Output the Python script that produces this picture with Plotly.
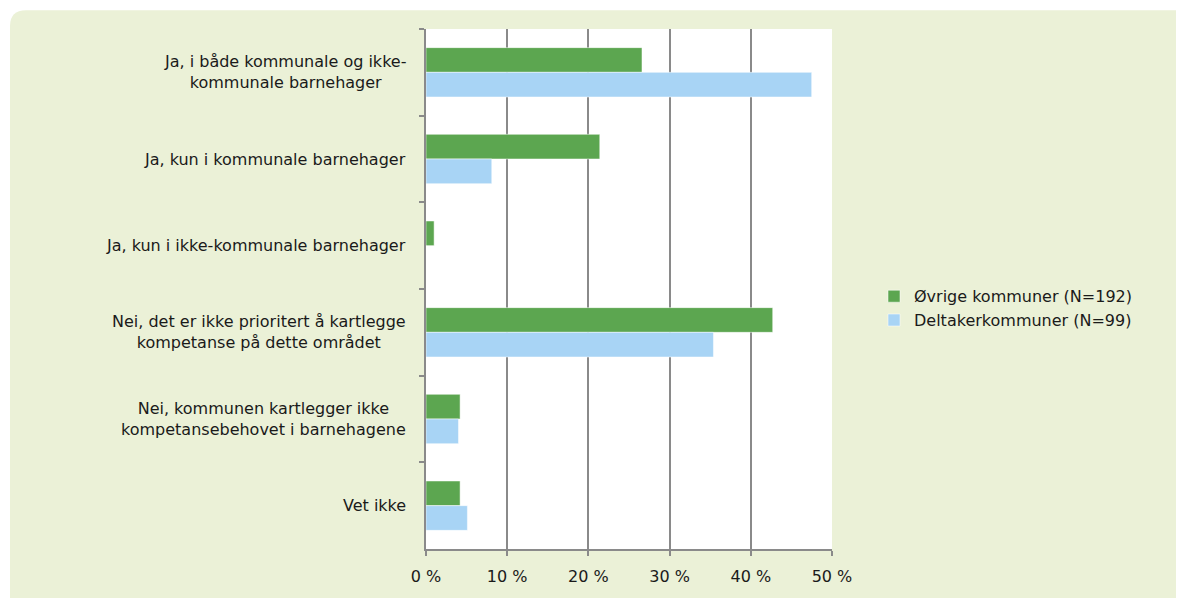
import plotly.graph_objects as go

categories = [
    "Ja, i både kommunale og ikke-<br>kommunale barnehager",
    "Ja, kun i kommunale barnehager",
    "Ja, kun i ikke-kommunale barnehager",
    "Nei, det er ikke prioritert å kartlegge<br>kompetanse på dette området",
    "Nei, kommunen kartlegger ikke<br>kompetansebehovet i barnehagene",
    "Vet ikke",
]
ovrige = [26.6, 21.4, 1.0, 42.7, 4.2, 4.2]
deltaker = [47.5, 8.1, 0.0, 35.4, 4.0, 5.1]
x_ticks = [0, 10, 20, 30, 40, 50]
x_ticktext = ["0 %", "10 %", "20 %", "30 %", "40 %", "50 %"]

GREEN = "#5ca650"
BLUE = "#a8d4f5"
PANEL = "#ebf1d7"
GRID = "#8a8a8a"
FONT = dict(family="DejaVu Sans", size=16, color="#1a1a1a")

# page body has an 8px margin, so work in reference pixels minus 8
OFF = 8
W, H = 1184 - OFF, 598 - OFF
L, R, T, B = 426 - OFF, 832 - OFF, 29 - OFF, 554 - OFF
pw, ph = R - L, B - T


def px_x(p):
    return (p - OFF - L) / pw


def px_y(p):
    return (B - (p - OFF)) / ph


fig = go.Figure()
fig.add_trace(go.Bar(
    y=categories, x=ovrige, orientation="h", name="Øvrige kommuner (N=192)",
    marker=dict(color=GREEN, line=dict(color="rgba(255,255,255,0.5)", width=1)),
))
fig.add_trace(go.Bar(
    y=categories, x=deltaker, orientation="h", name="Deltakerkommuner (N=99)",
    marker=dict(color=BLUE, line=dict(color="rgba(255,255,255,0.5)", width=1)),
))

# rounded panel + white plot area
x0, x1 = px_x(10), px_x(1200)
y0, y1 = px_y(610), px_y(10)
rx, ry = 16 / pw, 16 / ph
panel_path = (
    f"M {x0},{y0} L {x0},{y1 - ry} Q {x0},{y1} {x0 + rx},{y1} "
    f"L {x1},{y1} L {x1},{y0} Z"
)
shapes = [
    dict(type="path", path=panel_path, xref="paper", yref="paper",
         fillcolor=PANEL, line=dict(width=0), layer="below"),
    dict(type="rect", x0=0, x1=1, y0=0, y1=1, xref="paper", yref="paper",
         fillcolor="white", line=dict(width=0), layer="below"),
]

annotations = [
    dict(text=c, x=0, y=c, xref="paper", yref="y", xanchor="right",
         xshift=-18, showarrow=False, align="center", font=FONT)
    for c in categories
]

fig.update_layout(
    width=W, height=H,
    margin=dict(l=L, r=W - R, t=T, b=H - B, pad=0),
    paper_bgcolor="white",
    plot_bgcolor="rgba(0,0,0,0)",
    font=FONT,
    barmode="group",
    bargap=0.43,
    bargroupgap=0,
    shapes=shapes,
    annotations=annotations,
    showlegend=True,
    legend=dict(x=px_x(874), y=px_y(311), xanchor="left", yanchor="middle",
                bgcolor="rgba(0,0,0,0)", font=FONT, tracegroupgap=4),
    xaxis=dict(
        range=[0, 50], tickvals=x_ticks, ticktext=x_ticktext,
        showgrid=True, gridcolor=GRID, gridwidth=1.5,
        showline=True, linecolor=GRID, linewidth=1.5,
        ticks="outside", ticklen=5, tickcolor=GRID, tickwidth=1.5,
        zeroline=False, tickfont=FONT,
        ticklabelstandoff=7,
    ),
    yaxis=dict(
        categoryorder="array", categoryarray=categories,
        autorange="reversed", showticklabels=False,
        showline=True, linecolor=GRID, linewidth=1.5,
        ticks="outside", ticklen=5, tickcolor=GRID, tickwidth=1.5,
        tickson="boundaries", showgrid=False,
    ),
)

fig.write_html("out.html")
